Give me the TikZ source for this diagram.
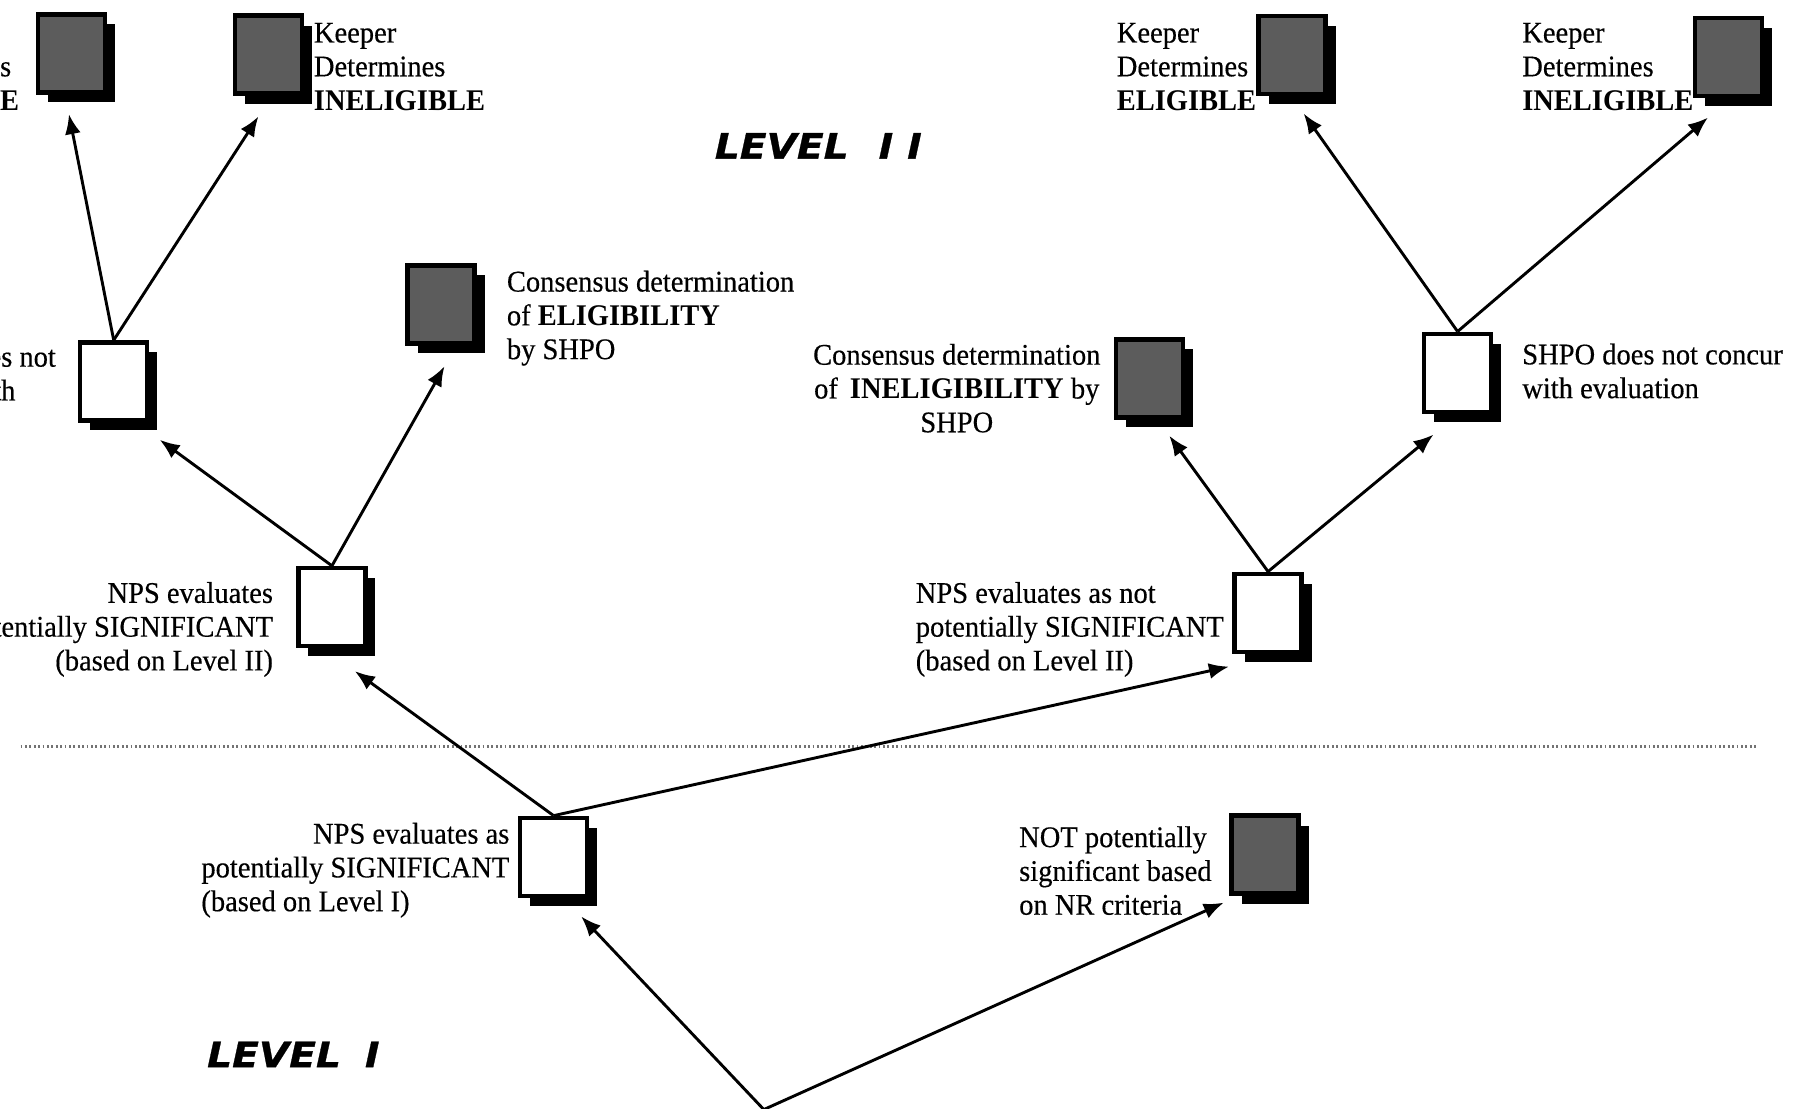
\documentclass[tikz,border=0pt]{standalone}
\usepackage{fontspec}
\setmainfont{Liberation Serif}[FakeStretch=0.95, UprightFeatures={FakeBold=0.35}]
\newfontfamily\lvlfont{DejaVu Sans}[FakeStretch=1.12, BoldItalicFeatures={FakeBold=0.8}]
\usetikzlibrary{arrows.meta,calc,shadows}
\begin{document}
\begin{tikzpicture}[x=0.5743pt,y=-0.5743pt,
  lbl/.style={inner sep=0pt, font=\fontsize{15}{16.9}\selectfont},
  boxbase/.style={rectangle, minimum width=33.5pt, minimum height=39pt, inner sep=0pt,
    line width=2.2pt, draw=black,
    drop shadow={shadow xshift=5pt, shadow yshift=-5pt, opacity=1, fill=black}},
  darkbox/.style={boxbase, fill=black!64},
  lightbox/.style={boxbase, fill=white},
  conn/.style={line width=1.45pt, -{Latex[length=10pt,width=8pt]}},
  lvl/.style={inner sep=0pt, anchor=west, font=\lvlfont\bfseries\itshape\fontsize{17.5}{20}\selectfont}
]
\useasboundingbox (0,0) rectangle (1568,965);
\fill[white] (0,0) rectangle (1568,965);
\clip (0,0) rectangle (1568,965);

% separator
\coordinate (h1) at (18,650);
\coordinate (h2) at (1530,650);
\draw[black!55, line width=1.1pt, dash pattern=on 0.9pt off 1.3pt] (h1) -- (h2);

% boxes
\node[darkbox]  (A) at (62.5,46.5) {};
\node[darkbox]  (B) at (234,47.5) {};
\node[darkbox]  (C) at (1125,48) {};
\node[darkbox]  (D) at (1505,49.5) {};
\node[lightbox] (E) at (99,332) {};
\node[darkbox]  (F) at (384,265) {};
\node[lightbox] (G) at (289,528.5) {};
\node[darkbox]  (H) at (1001,329.5) {};
\node[lightbox] (I) at (1269,324.5) {};
\node[lightbox] (J) at (1104,533.5) {};
\node[lightbox] (K) at (482,746) {};
\node[darkbox]  (L) at (1101.5,744) {};
\coordinate (O) at (665,966);

% labels
\node[lbl, anchor=west, align=left] (tA) at (-105,58) {Keeper\\Determines\\\textbf{ELIGIBLE}};
\node[lbl, anchor=west, align=left] (tB) at (273,58) {Keeper\\Determines\\\textbf{INELIGIBLE}};
\node[lbl, anchor=west, align=left] (tC) at (972,58) {Keeper\\Determines\\\textbf{ELIGIBLE}};
\node[lbl, anchor=west, align=left] (tD) at (1325,58) {Keeper\\Determines\\\textbf{INELIGIBLE}};
\node[lbl, anchor=east, align=left] (tE) at (49,325) {SHPO does not\\concur with};
\node[lbl, anchor=west, align=left] (tF) at (441,277) {Consensus determination\\of \textbf{ELIGIBILITY}\\by SHPO};
\node[lbl, anchor=east, align=right] (tG) at (238,548) {NPS evaluates\\potentially SIGNIFICANT\\(based on Level II)};
\node[lbl, anchor=center, align=center] (tH) at (833,338) {Consensus determination\\of\, \textbf{INELIGIBILITY} by\\SHPO};
\node[lbl, anchor=west, align=left] (tI) at (1325,323) {SHPO does not concur\\with evaluation};
\node[lbl, anchor=west, align=left] (tJ) at (797,548) {NPS evaluates as not\\potentially SIGNIFICANT\\(based on Level II)};
\node[lbl, anchor=west] (tK) at (175,758) {\begin{tabular}{@{}l@{}}\multicolumn{1}{@{}r@{}}{NPS evaluates as}\\potentially SIGNIFICANT\\(based on Level I)\end{tabular}};
\node[lbl, anchor=west, align=left] (tL) at (887,758) {NOT potentially\\significant based\\on NR criteria};
\node[lvl] (lv2) at (622,127) {LEVEL\hspace{15pt}I\hspace{7pt}I};
\node[lvl] (lv1) at (180,918) {LEVEL\hspace{12pt}I};

% connectors
\draw[conn] (E.north) -- ($(A.south)+(-2.5,17)$);
\draw[conn] (E.north) -- ($(B.south)+(-9,18)$);
\draw[conn] (G.north) -- ($(E.south east)+(9,15)$);
\draw[conn] (G.north) -- ($(F.south)+(3,18)$);
\draw[conn] (I.north) -- ($(C.south)+(10,15)$);
\draw[conn] (I.north) -- ($(D.south)+(-18,17)$);
\draw[conn] (J.north) -- ($(H.south)+(17,14)$);
\draw[conn] (J.north) -- ($(I.south)+(-21,18)$);
\draw[conn] (K.north) -- ($(G.south)+(20,20)$);
\draw[conn] (K.north) -- ($(J.south west)+(-3,11)$);
\draw[conn] (O) -- ($(K.south)+(24,16)$);
\draw[conn] (O) -- ($(L.south west)+(-5,6)$);
\end{tikzpicture}
\end{document}
